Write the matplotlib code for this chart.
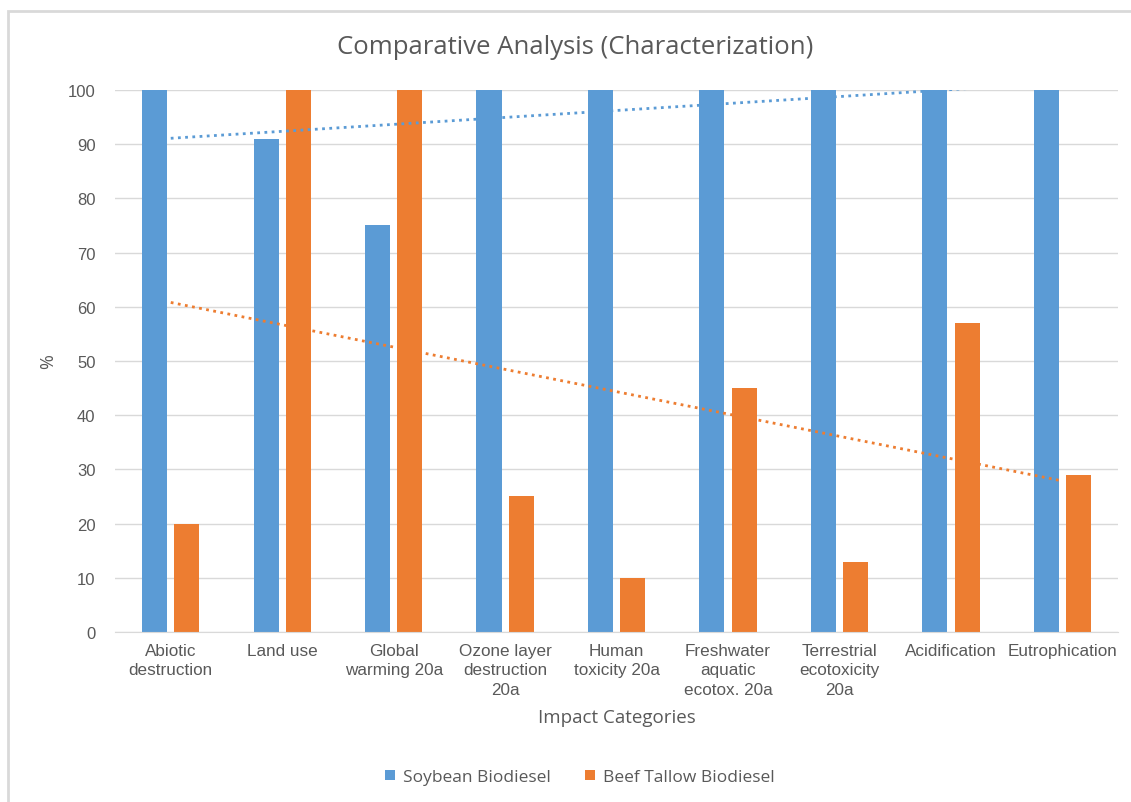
import numpy as np
import matplotlib.pyplot as plt
from matplotlib.patches import Rectangle

categories = ['Abiotic\ndestruction', 'Land use', 'Global\nwarming 20a',
              'Ozone layer\ndestruction\n20a', 'Human\ntoxicity 20a',
              'Freshwater\naquatic\necotox. 20a', 'Terrestrial\necotoxicity\n20a',
              'Acidification', 'Eutrophication']
soybean = [100, 91, 75, 100, 100, 100, 100, 100, 100]
beef_tallow = [20, 100, 100, 25, 10, 45, 13, 57, 29]

blue = '#5b9bd5'
orange = '#ed7d31'
grey_txt = '#595959'

fig = plt.figure(figsize=(11.31, 8.03), dpi=100)
ax = fig.add_axes([0.1017, 0.2117, 0.887, 0.675])

x = np.arange(1, len(categories) + 1)
w = 0.225
ax.bar(x - 0.145, soybean, w, color=blue, label='Soybean Biodiesel', zorder=2)
ax.bar(x + 0.145, beef_tallow, w, color=orange, label='Beef Tallow Biodiesel', zorder=2)

# linear trendlines like Excel
for vals, c in ((soybean, blue), (beef_tallow, orange)):
    k, b = np.polyfit(x, vals, 1)
    ax.plot(x, k * x + b, color=c, lw=2, ls=(0, (1, 1.6)), zorder=3)

ax.set_xlim(0.5, len(categories) + 0.5)
ax.set_ylim(0, 100)
ax.set_yticks(range(0, 101, 10))
ax.set_xticks(x)
ax.set_xticklabels(categories, fontsize=12.3, family='Liberation Sans',
                   color=grey_txt, linespacing=1.35)
for lab in ax.get_yticklabels():
    lab.set_fontsize(12)
    lab.set_family('Liberation Sans')
    lab.set_color(grey_txt)
ax.tick_params(length=0, pad=14)
ax.tick_params(axis='x', pad=8)
ax.grid(axis='y', color='#d9d9d9', lw=1, zorder=0)
for s in ('top', 'right', 'left'):
    ax.spines[s].set_visible(False)
ax.spines['bottom'].set_color('#d9d9d9')

fig.text(575 / 1131, 1 - 47 / 803, 'Comparative Analysis (Characterization)',
         fontsize=18.5, family='Open Sans', color=grey_txt,
         ha='center', va='center')
ax.set_xlabel('Impact Categories', fontsize=13.5, family='Open Sans',
              color=grey_txt, labelpad=8)
ax.set_ylabel('%', fontsize=13, family='Open Sans', color=grey_txt, labelpad=8)

fig.legend(loc='center', bbox_to_anchor=(580 / 1131, 1 - 778 / 803), ncol=2,
           frameon=False, prop={'family': 'Open Sans', 'size': 12.5},
           handlelength=0.55, handleheight=0.55, columnspacing=2.0,
           handletextpad=0.45, labelcolor=grey_txt)

fig.patches.append(Rectangle((8 / 1131, -0.1), 1.2, (803 - 12) / 803 + 0.1,
                             transform=fig.transFigure, fill=False,
                             ec='#d9d9d9', lw=2))

fig.savefig('out.png', dpi=100)
